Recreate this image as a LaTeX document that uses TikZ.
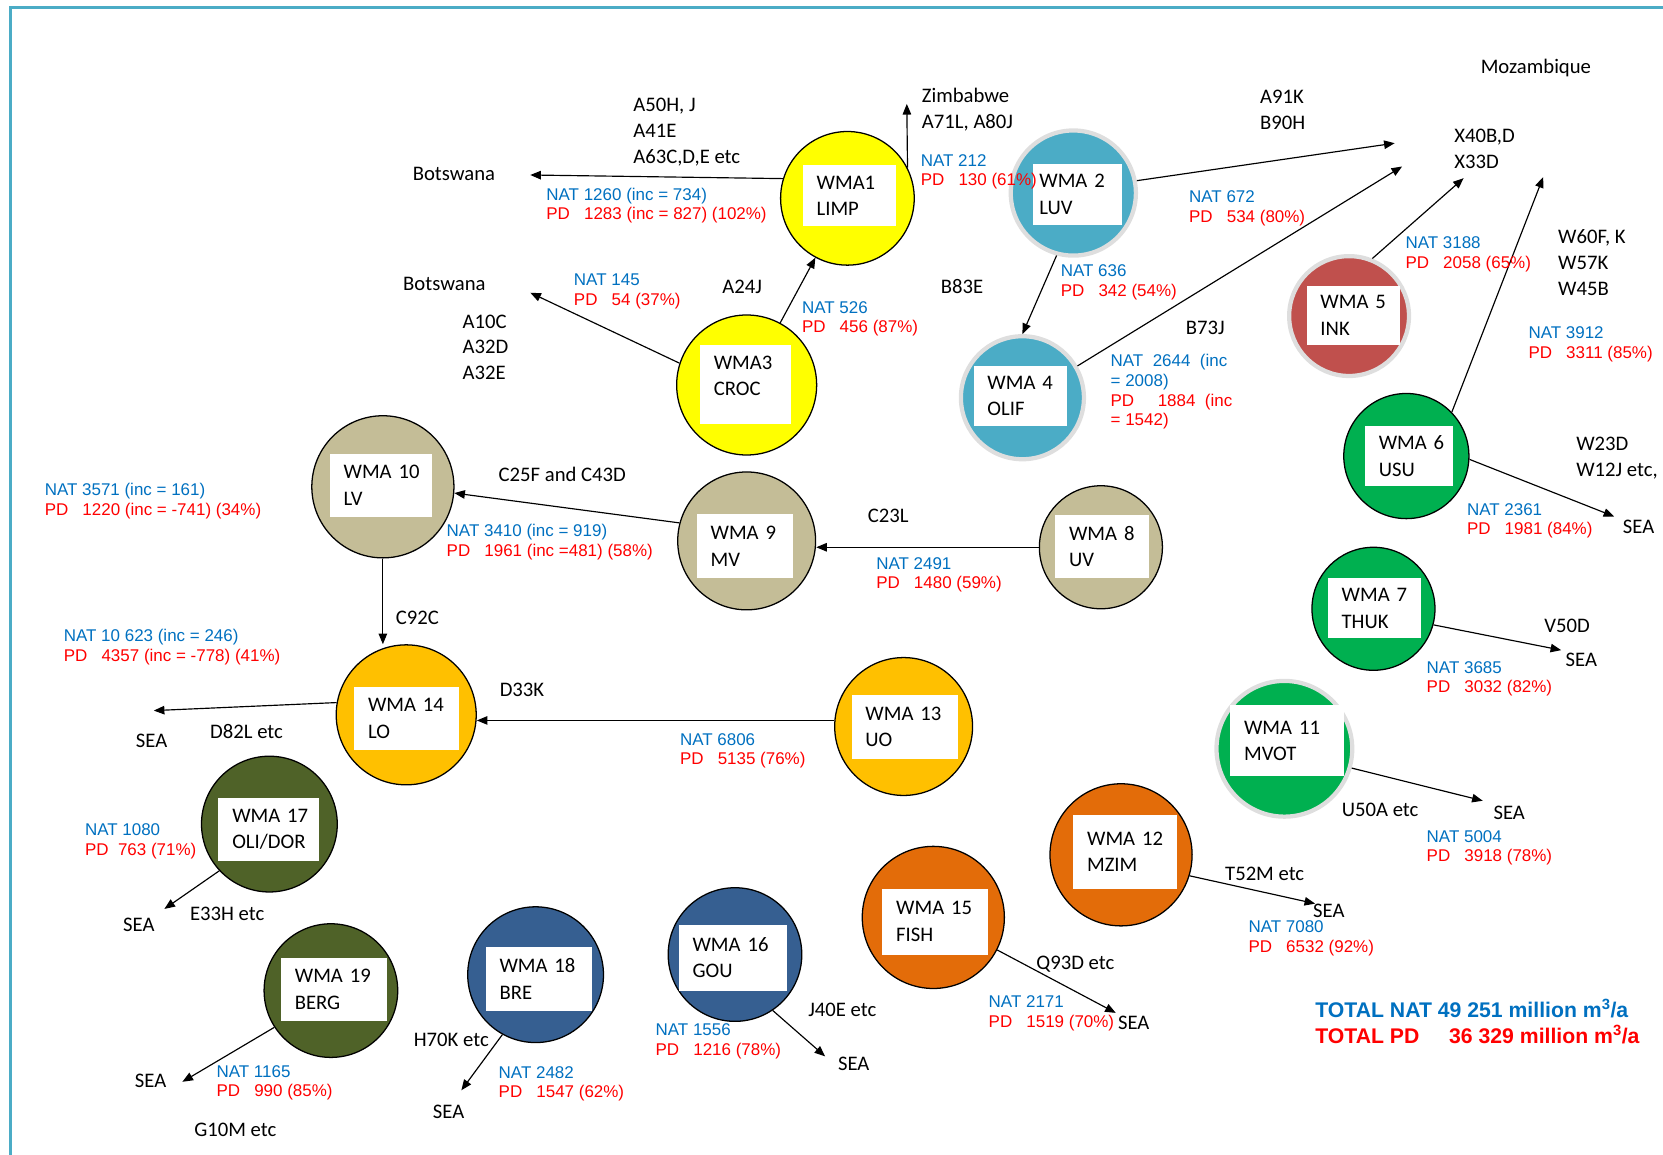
\documentclass[tikz,border=0pt]{standalone}
\usepackage{fontspec}
\setmainfont{Carlito}
\newfontfamily\natfont{Liberation Sans}
\usepackage{tikz}
\usetikzlibrary{arrows.meta}

\definecolor{framecol}{HTML}{4BACC6}
\definecolor{natblue}{HTML}{0070C0}
\definecolor{pdred}{HTML}{FF0000}
\definecolor{limpyellow}{HTML}{FFFF00}
\definecolor{luvteal}{HTML}{4BACC6}
\definecolor{inkred}{HTML}{C0504D}
\definecolor{usugreen}{HTML}{00B050}
\definecolor{vaaltan}{HTML}{C4BD97}
\definecolor{lowgold}{HTML}{FFC000}
\definecolor{mzimorange}{HTML}{E36C09}
\definecolor{bergolive}{HTML}{4F6228}
\definecolor{goublue}{HTML}{365F91}

\begin{document}
\begin{tikzpicture}[x=1pt, y=-1pt,
    wma/.style={circle, draw=black, line width=1.2pt, minimum size=#1, inner sep=0pt},
    glow/.style={circle, draw=black!13, line width=4pt, minimum size=#1, inner sep=0pt},
    wbox/.style n args={3}{fill=white, align=left, inner xsep=13pt, inner ysep=0pt,
        minimum width=#1, minimum height=#2, text width=#3,
        font=\fontsize{19.5}{25}\selectfont},
    lbl/.style={anchor=west, align=left, inner sep=0pt, font=\fontsize{19.5}{24.5}\selectfont},
    nat/.style={anchor=west, align=left, inner sep=0pt, text=natblue,
        font=\natfont\fontsize{16}{18.5}\selectfont},
    flow/.style={-{Triangle[length=10pt,width=8pt]}, line width=1.1pt}]
    \useasboundingbox (0,0) rectangle (1568,1089);
    % marc
    \draw[framecol, line width=3pt] (10,1089) -- (10,7) -- (1568,7);

    % WMA circles
    \node[wma=126, fill=limpyellow] (w1) at (799,187) {};
    \node[glow=118, fill=luvteal] (w2) at (1012,182) {};
    \node[wma=132, fill=limpyellow] (w3) at (704,363) {};
    \node[glow=116, fill=luvteal] (w4) at (964,375) {};
    \node[glow=113, fill=inkred] (w5) at (1272,298) {};
    \node[wma=118, fill=usugreen] (w6) at (1326,430) {};
    \node[wma=116, fill=usugreen] (w7) at (1295,574) {};
    \node[wma=116, fill=vaaltan] (w8) at (1038,516) {};
    \node[wma=130, fill=vaaltan] (w9) at (704,510) {};
    \node[wma=134, fill=vaaltan] (w10) at (361,459) {};
    \node[glow=128, fill=usugreen] (w11) at (1211,706) {};
    \node[wma=134, fill=mzimorange] (w12) at (1057,806) {};
    \node[wma=130, fill=lowgold] (w13) at (852,685) {};
    \node[wma=132, fill=lowgold] (w14) at (383,674) {};
    \node[wma=134, fill=mzimorange] (w15) at (880,865) {};
    \node[wma=126, fill=goublue] (w16) at (693,900) {};
    \node[wma=128, fill=bergolive] (w17) at (254,777) {};
    \node[wma=128, fill=goublue] (w18) at (505,919) {};
    \node[wma=126, fill=bergolive] (w19) at (312,934) {};

    % name boxes
    \node[wbox={88pt}{57pt}{62pt}] (b1) at (801,184.5) {WMA1\\LIMP};
    \node[wbox={84pt}{57pt}{72pt}, inner xsep=6pt] (b2) at (1016,183.5) {WMA~2\\LUV};
    \node[wbox={86pt}{75pt}{60pt}] (b3) at (703,362.5) {WMA3\\CROC\\[-9pt]\mbox{}};
    \node[wbox={88pt}{57pt}{62pt}] (b4) at (962,373.5) {WMA~4\\OLIF};
    \node[wbox={88pt}{55pt}{62pt}] (b5) at (1276,297.5) {WMA~5\\INK};
    \node[wbox={83pt}{56pt}{57pt}] (b6) at (1328.5,430) {WMA~6\\USU};
    \node[wbox={88pt}{57pt}{62pt}] (b7) at (1296,573.5) {WMA~7\\THUK};
    \node[wbox={88pt}{59pt}{62pt}] (b8) at (1039,515.5) {WMA~8\\UV};
    \node[wbox={91pt}{60pt}{65pt}] (b9) at (702.5,515) {WMA~9\\MV};
    \node[wbox={96pt}{59pt}{70pt}] (b10) at (359,457.5) {WMA~10\\LV};
    \node[wbox={107pt}{67pt}{81pt}] (b11) at (1213.5,698.5) {WMA~11\\MVOT};
    \node[wbox={98pt}{70pt}{72pt}] (b12) at (1061,803) {WMA~12\\MZIM};
    \node[wbox={100pt}{61pt}{74pt}] (b13) at (853,685.5) {WMA~13\\UO};
    \node[wbox={99pt}{59pt}{73pt}] (b14) at (383.5,677.5) {WMA~14\\LO};
    \node[wbox={100pt}{62pt}{74pt}] (b15) at (882,869) {WMA~15\\FISH};
    \node[wbox={102pt}{62pt}{76pt}] (b16) at (691,903) {WMA~16\\GOU};
    \node[wbox={95pt}{60pt}{69pt}] (b17) at (253.5,782) {WMA~17\\OLI/DOR};
    \node[wbox={100pt}{60pt}{74pt}] (b18) at (508,923) {WMA~18\\BRE};
    \node[wbox={100pt}{60pt}{74pt}] (b19) at (315,933) {WMA~19\\BERG};

    % free ends of the flows
    \coordinate (bots1) at (500,165);
    \coordinate (zimb) at (855,98);
    \coordinate (bots2) at (500,276);
    \coordinate (moz1) at (1315,135);
    \coordinate (moz2) at (1322,157);
    \coordinate (moz3) at (1380,168);
    \coordinate (moz4) at (1455,167);
    \coordinate (sea6) at (1522,487);
    \coordinate (sea7) at (1472,613);
    \coordinate (sea11) at (1398,755);
    \coordinate (sea12) at (1240,852);
    \coordinate (sea15) at (1052,955);
    \coordinate (sea16) at (778,996);
    \coordinate (sea18) at (435,1028);
    \coordinate (sea19) at (172,1020);
    \coordinate (sea17) at (155,857);
    \coordinate (sea14) at (145,670);

    % flows
    \draw[flow] (w1.163) -- (bots1);
    \draw[flow] (w1.27) -- (zimb);
    \draw[flow] (w3.162) -- (bots2);
    \draw[flow] (w3) -- (w1);
    \draw[flow] (w2.11) -- (moz1);
    \draw[flow] (w2.-105) -- (w4.north);
    \draw[flow] (w4.30) -- (moz2);
    \draw[flow] (w5.68) -- (moz3);
    \draw[flow] (w6.44) -- (moz4);
    \draw[flow] (w6.-3) -- (sea6);
    \draw[flow] (w7.-15) -- (sea7);
    \draw[flow] (w11.-16) -- (sea11);
    \draw[flow] (w12.-17) -- (sea12);
    \draw[flow] (w15.-27) -- (sea15);
    \draw[flow] (w16.-56) -- (sea16);
    \draw[flow] (w18.-119) -- (sea18);
    \draw[flow] (w19.-147) -- (sea19);
    \draw[flow] (w17.-137) -- (sea17);
    \draw[flow] (w14.170) -- (sea14);
    \draw[flow] (w9.165) -- (w10.-5);
    \draw[flow] (w8.west) -- (w8.west -| w9.east);
    \draw[flow] (w13.175) -- (w13.175 -| w14.east);
    \draw[flow] (w10.south) -- (w10.south |- w14.north);

    % catchment labels
    \node[lbl] (ta50) at (597,124.5) {A50H, J\\A41E\\A63C,D,E etc};
    \node[lbl] (tbots1) at (389,164) {Botswana};
    \node[lbl] (tzimb) at (869,103.5) {Zimbabwe\\A71L, A80J};
    \node[lbl] (ta91) at (1188,103.5) {A91K\\B90H};
    \node[lbl] (tmoz) at (1396,64) {Mozambique};
    \node[lbl] (tx40) at (1371,140.5) {X40B,D\\X33D};
    \node[lbl] (tbots2) at (380,268) {Botswana};
    \node[lbl] (ta10) at (436,327.5) {A10C\\A32D\\A32E};
    \node[lbl] (ta24) at (681,270) {A24J};
    \node[lbl] (tb83) at (887,270) {B83E};
    \node[lbl] (tb73) at (1118,309) {B73J};
    \node[lbl] (tw60) at (1469,247.5) {W60F, K\\W57K\\W45B};
    \node[lbl] (tw23) at (1486,431.5) {W23D\\W12J etc,};
    \node[lbl] (tsea6) at (1530,497) {SEA};
    \node[lbl] (tc25) at (470,447) {C25F and C43D};
    \node[lbl] (tc23) at (818,486) {C23L};
    \node[lbl] (tc92) at (373,583) {C92C};
    \node[lbl] (tv50) at (1456,590) {V50D};
    \node[lbl] (tsea7) at (1476,622) {SEA};
    \node[lbl] (td33) at (471,650) {D33K};
    \node[lbl] (tsea14) at (128,699) {SEA};
    \node[lbl] (td82) at (198,690) {D82L etc};
    \node[lbl] (tu50) at (1265,764) {U50A etc};
    \node[lbl] (tsea11) at (1408,766) {SEA};
    \node[lbl] (tt52) at (1155,824) {T52M etc};
    \node[lbl] (tsea12) at (1238,859) {SEA};
    \node[lbl] (te33) at (179,862) {E33H etc};
    \node[lbl] (tsea17) at (116,872) {SEA};
    \node[lbl] (tq93) at (977,909) {Q93D etc};
    \node[lbl] (tsea15) at (1054,964) {SEA};
    \node[lbl] (tj40) at (762,952) {J40E etc};
    \node[lbl] (tsea16) at (790,1003) {SEA};
    \node[lbl] (th70) at (390,980) {H70K etc};
    \node[lbl] (tsea18) at (408,1048) {SEA};
    \node[lbl] (tsea19) at (127,1019) {SEA};
    \node[lbl] (tg10) at (183,1065) {G10M etc};

    % NAT / PD volumes
    \node[nat] (n1) at (515,194) {NAT 1260 (inc = 734)\\\textcolor{pdred}{PD\ \ \ 1283 (inc = 827) (102\%)}};
    \node[nat] (n2) at (868,162) {NAT 212\\\textcolor{pdred}{PD\ \ \ 130 (61\%)}};
    \node[nat] (n3) at (541,274.5) {NAT 145\\\textcolor{pdred}{PD\ \ \ 54 (37\%)}};
    \node[nat] (n4) at (756,300.5) {NAT 526\\\textcolor{pdred}{PD\ \ \ 456 (87\%)}};
    \node[nat] (n5) at (1121,196.5) {NAT 672\\\textcolor{pdred}{PD\ \ \ 534 (80\%)}};
    \node[nat] (n6) at (1000,266) {NAT 636\\\textcolor{pdred}{PD\ \ \ 342 (54\%)}};
    \node[nat] (n7) at (1047,369.5) {NAT\ \ 2644\ \ (inc\\= 2008)\\\textcolor{pdred}{PD\ \ \ \ \ 1884\ \ (inc}\\\textcolor{pdred}{= 1542)}};
    \node[nat] (n8) at (1325,240) {NAT 3188\\\textcolor{pdred}{PD\ \ \ 2058 (65\%)}};
    \node[nat] (n9) at (1441,324.5) {NAT 3912\\\textcolor{pdred}{PD\ \ \ 3311 (85\%)}};
    \node[nat] (n10) at (1383,491) {NAT 2361\\\textcolor{pdred}{PD\ \ \ 1981 (84\%)}};
    \node[nat] (n11) at (42,472.5) {NAT 3571 (inc = 161)\\\textcolor{pdred}{PD\ \ \ 1220 (inc = -741) (34\%)}};
    \node[nat] (n12) at (421,511) {NAT 3410 (inc = 919)\\\textcolor{pdred}{PD\ \ \ 1961 (inc =481) (58\%)}};
    \node[nat] (n13) at (826,542) {NAT 2491\\\textcolor{pdred}{PD\ \ \ 1480 (59\%)}};
    \node[nat] (n14) at (1345,640) {NAT 3685\\\textcolor{pdred}{PD\ \ \ 3032 (82\%)}};
    \node[nat] (n15) at (60,610) {NAT 10 623 (inc = 246)\\\textcolor{pdred}{PD\ \ \ 4357 (inc = -778) (41\%)}};
    \node[nat] (n16) at (641,708) {NAT 6806\\\textcolor{pdred}{PD\ \ \ 5135 (76\%)}};
    \node[nat] (n17) at (1345,799.5) {NAT 5004\\\textcolor{pdred}{PD\ \ \ 3918 (78\%)}};
    \node[nat] (n18) at (80,793) {NAT 1080\\\textcolor{pdred}{PD\ \ 763 (71\%)}};
    \node[nat] (n19) at (1177,884.5) {NAT 7080\\\textcolor{pdred}{PD\ \ \ 6532 (92\%)}};
    \node[nat] (n20) at (932,955.5) {NAT 2171\\\textcolor{pdred}{PD\ \ \ 1519 (70\%)}};
    \node[nat] (n21) at (618,982) {NAT 1556\\\textcolor{pdred}{PD\ \ \ 1216 (78\%)}};
    \node[nat] (n22) at (470,1022) {NAT 2482\\\textcolor{pdred}{PD\ \ \ 1547 (62\%)}};
    \node[nat] (n23) at (204,1021) {NAT 1165\\\textcolor{pdred}{PD\ \ \ 990 (85\%)}};

    % totals
    \node[nat, font=\natfont\bfseries\fontsize{20}{24}\selectfont] (total) at (1240,963)
        {TOTAL NAT 49 251 million m\textsuperscript{3}/a\\\textcolor{pdred}{TOTAL PD\hspace{1.4em}36 329 million m\textsuperscript{3}/a}};
\end{tikzpicture}
\end{document}
